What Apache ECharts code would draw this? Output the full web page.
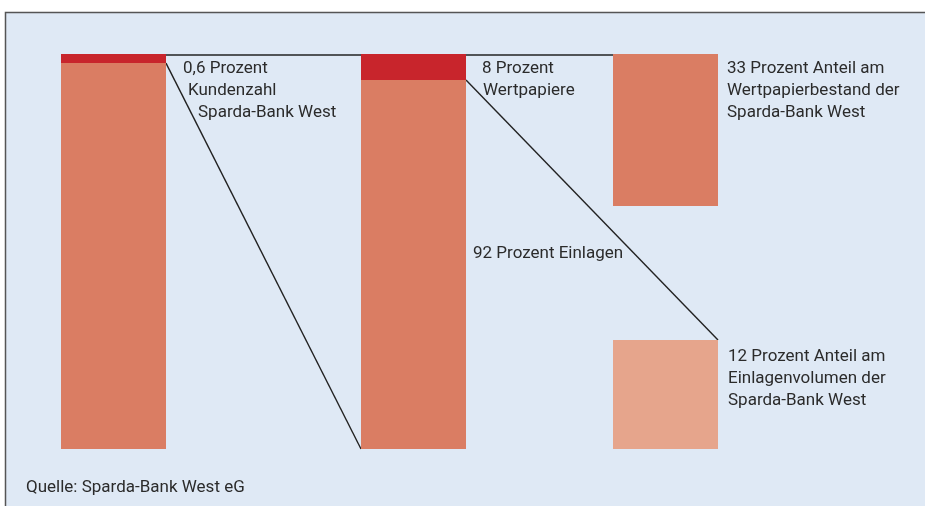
<!DOCTYPE html>
<html>
<head>
<meta charset="utf-8">
<script src="https://cdn.jsdelivr.net/npm/echarts@6/dist/echarts.min.js"></script>
<style>
  html, body { margin: 0; padding: 0; background: #fff; overflow: hidden; }
  #chart { width: 925px; height: 506px; }
</style>
</head>
<body>
<div id="chart"></div>
<script>
// Säulen (Anteile wie gezeichnet, in Prozent der Säulenhöhe)
const columns = ['Kunden', 'Bilanz', 'Anteil'];
const redShare = [2.3, 6.6];        // oberer roter Teil Säule 1 / 2
const orangeShare = [97.7, 93.4];   // restlicher Teil Säule 1 / 2
const wertpapierAnteil = [38.5];    // Säule 3 oben
const einlagenAnteil = [27.6];      // Säule 3 unten

// Beschriftungen
const labelKunden = ['0,6 Prozent', 'Kundenzahl', 'Sparda-Bank West'];
const labelWertpapiere = ['8 Prozent', 'Wertpapiere'];
const labelEinlagen = ['92 Prozent Einlagen'];
const labelAnteilWp = ['33 Prozent Anteil am', 'Wertpapierbestand der', 'Sparda-Bank West'];
const labelAnteilEl = ['12 Prozent Anteil am', 'Einlagenvolumen der', 'Sparda-Bank West'];
const quelle = 'Quelle: Sparda-Bank West eG';

const RED = '#C8252C';
const ORANGE = '#DA7D63';
const LIGHT = '#E6A58C';
const BG = '#DFE9F5';
const FONT = 'Roboto';
const TEXT = '#2b2b2b';

const colLeft = [61, 361, 613];
const colWidth = 105;

const myChart = echarts.init(document.getElementById('chart'), null, { renderer: 'canvas' });

const grids = colLeft.map((l) => ({ left: l, width: colWidth, top: 54, bottom: 57 }));
const xAxes = columns.map((c, i) => ({
  type: 'category', gridIndex: i, data: [c], show: false
}));
const yAxes = columns.map((c, i) => ({
  type: 'value', gridIndex: i, min: 0, max: 100, show: false
}));

const bar = (i, stack, value, color) => ({
  type: 'bar', xAxisIndex: i, yAxisIndex: i, stack: stack, barWidth: '100%',
  data: [value], itemStyle: { color: color }, silent: true, z: 3
});

const series = [
  bar(0, 's0', orangeShare[0], ORANGE),
  bar(0, 's0', redShare[0], RED),
  bar(1, 's1', orangeShare[1], ORANGE),
  bar(1, 's1', redShare[1], RED),
  bar(2, 's2', einlagenAnteil[0], LIGHT),
  bar(2, 's2', 100 - einlagenAnteil[0] - wertpapierAnteil[0], 'rgba(0,0,0,0)'),
  bar(2, 's2', wertpapierAnteil[0], ORANGE)
];

myChart.setOption({
  backgroundColor: '#ffffff',
  animation: false,
  grid: grids,
  xAxis: xAxes,
  yAxis: yAxes,
  series: series
});

// Pixel über die Achsen holen
const px = (i, v) => myChart.convertToPixel({ gridIndex: i }, [0, v]);
const half = colWidth / 2;

const top1 = px(0, 100);
const red1 = px(0, orangeShare[0]);
const bot2 = px(1, 0);
const top3 = px(2, 100);
const red2 = px(1, orangeShare[1]);
const el3 = px(2, einlagenAnteil[0]);

const lineStyle = { stroke: '#222', lineWidth: 1.4 };
const line = (x1, y1, x2, y2) => ({
  type: 'line', z: 1, silent: true,
  shape: { x1: x1, y1: y1, x2: x2, y2: y2 }, style: lineStyle
});
const text = (x, y, t) => ({
  type: 'text', x: x, y: y, z: 5, silent: true,
  style: { text: t, font: '17px ' + FONT, fill: TEXT, textVerticalAlign: 'top' }
});

const graphic = [
  {
    type: 'rect', z: -10, silent: true,
    shape: { x: 5.5, y: 12.5, width: 2000, height: 1000 },
    style: { fill: BG, stroke: '#555', lineWidth: 1.5 }
  },
  line(top1[0] + half, top1[1] + 1, top3[0] - half, top3[1] + 1),
  line(red1[0] + half, red1[1], bot2[0] - half, bot2[1]),
  line(red2[0] + half, red2[1], el3[0] + half, el3[1]),
  text(183, 60, labelKunden[0]),
  text(188, 82, labelKunden[1]),
  text(198, 104, labelKunden[2]),
  text(482, 60, labelWertpapiere[0]),
  text(483, 82, labelWertpapiere[1]),
  text(473, 245, labelEinlagen[0]),
  text(727, 60, labelAnteilWp[0]),
  text(727, 82, labelAnteilWp[1]),
  text(727, 104, labelAnteilWp[2]),
  text(728, 348, labelAnteilEl[0]),
  text(728, 370, labelAnteilEl[1]),
  text(728, 392, labelAnteilEl[2]),
  text(26, 479, quelle)
];

myChart.setOption({ graphic: graphic });
</script>
</body>
</html>
